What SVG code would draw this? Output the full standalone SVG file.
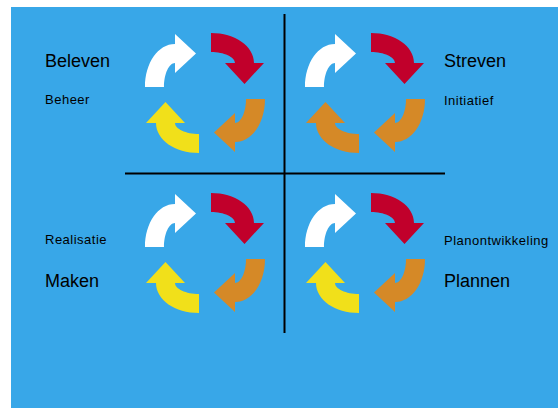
<svg xmlns="http://www.w3.org/2000/svg" xmlns:xlink="http://www.w3.org/1999/xlink" width="558" height="408" viewBox="0 0 558 408">
<style>
.big{font-family:"Liberation Sans",Arial,sans-serif;font-size:18px;fill:#000}
.small{font-family:"Liberation Sans",Arial,sans-serif;font-size:13px;letter-spacing:0.5px;fill:#000}
.w{fill:#ffffff}.r{fill:#c1002b}.o{fill:#d58927}.y{fill:#f1e01a}
.line{stroke:#000;stroke-width:2;fill:none}
</style>
<defs>
<path id="arr" d="M -60 -6 C -60 -30 -47 -49 -30 -49 L -30 -59 L -9 -39.5 L -30 -20 L -30 -30 C -36 -30 -41 -19 -41 -6 Z"/>
</defs>
<rect x="11" y="7" width="547" height="401" fill="#38a7e8"/>
<g id="connectors">
<line class="line" x1="284.5" y1="14" x2="284.5" y2="333"/>
<line class="line" x1="125" y1="173.5" x2="445" y2="173.5"/>
</g>
<g id="cycle-beleven" transform="translate(205,93)">
<use xlink:href="#arr" class="w"/>
<use xlink:href="#arr" class="r" transform="rotate(90)"/>
<use xlink:href="#arr" class="o" transform="rotate(180)"/>
<use xlink:href="#arr" class="y" transform="rotate(270)"/>
</g>
<g id="cycle-streven" transform="translate(365,93)">
<use xlink:href="#arr" class="w"/>
<use xlink:href="#arr" class="r" transform="rotate(90)"/>
<use xlink:href="#arr" class="o" transform="rotate(180)"/>
<use xlink:href="#arr" class="o" transform="rotate(270)"/>
</g>
<g id="cycle-maken" transform="translate(205,253)">
<use xlink:href="#arr" class="w"/>
<use xlink:href="#arr" class="r" transform="rotate(90)"/>
<use xlink:href="#arr" class="o" transform="rotate(180)"/>
<use xlink:href="#arr" class="y" transform="rotate(270)"/>
</g>
<g id="cycle-plannen" transform="translate(365,253)">
<use xlink:href="#arr" class="w"/>
<use xlink:href="#arr" class="r" transform="rotate(90)"/>
<use xlink:href="#arr" class="o" transform="rotate(180)"/>
<use xlink:href="#arr" class="y" transform="rotate(270)"/>
</g>
<g id="label-beleven">
<text class="big" x="45" y="67">Beleven</text>
<text class="small" x="45" y="104">Beheer</text>
</g>
<g id="label-streven">
<text class="big" x="444" y="67">Streven</text>
<text class="small" x="444" y="105">Initiatief</text>
</g>
<g id="label-maken">
<text class="small" x="45" y="244">Realisatie</text>
<text class="big" x="45" y="287">Maken</text>
</g>
<g id="label-plannen">
<text class="small" x="444" y="245">Planontwikkeling</text>
<text class="big" x="444" y="287">Plannen</text>
</g>
</svg>
